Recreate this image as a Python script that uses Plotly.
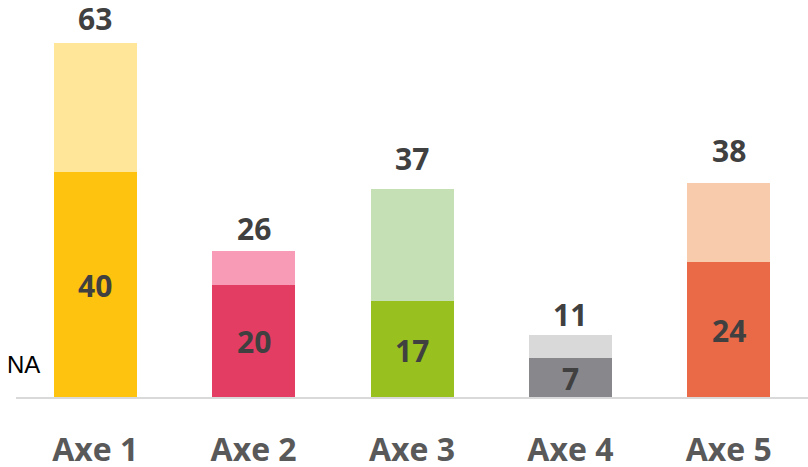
import plotly.graph_objects as go

categories = ["Axe 1", "Axe 2", "Axe 3", "Axe 4", "Axe 5"]
base_values = [40, 20, 17, 7, 24]
totals = [63, 26, 37, 11, 38]
top_values = [t - b for t, b in zip(totals, base_values)]

base_colors = ["#FDC30F", "#E43D64", "#98C11F", "#88878C", "#EA6A47"]
top_colors = ["#FFE699", "#F89BB6", "#C5E0B4", "#D9D9D9", "#F8CBAD"]
total_shift = [24, 22, 31, 21, 33]

FONT = "Open Sans"

fig = go.Figure()
fig.add_trace(go.Bar(x=categories, y=base_values, marker=dict(color=base_colors, line=dict(width=0)),
                     hoverinfo="skip"))
fig.add_trace(go.Bar(x=categories, y=top_values, marker=dict(color=top_colors, line=dict(width=0)),
                     hoverinfo="skip"))

for c, b, t, s in zip(categories, base_values, totals, total_shift):
    fig.add_annotation(x=c, y=b / 2, text=f"<b>{b}</b>", showarrow=False, yanchor="middle",
                       yshift=-1, font=dict(family=FONT, size=30, color="#404040"))
    fig.add_annotation(x=c, y=t, text=f"<b>{t}</b>", showarrow=False, yanchor="middle",
                       yshift=s, font=dict(family=FONT, size=30, color="#404040"))

fig.add_annotation(xref="paper", yref="paper", x=-0.014, y=0, xanchor="left", yanchor="bottom",
                   yshift=17, text="NA", showarrow=False,
                   font=dict(family="Liberation Sans", size=24, color="#000000"))

fig.update_layout(
    width=808, height=467,
    margin=dict(l=16, r=0, t=3, b=70, autoexpand=False),
    barmode="stack", bargap=0.476,
    showlegend=False,
    plot_bgcolor="white", paper_bgcolor="white",
    xaxis=dict(showline=True, linecolor="#D9D9D9", linewidth=2, ticks="",
               showgrid=False, zeroline=False, ticklabelstandoff=24, automargin=False,
               tickfont=dict(family=FONT, size=32, color="#595959", weight="bold")),
    yaxis=dict(range=[0, 70.1], visible=False, showgrid=False, zeroline=False, automargin=False),
)

fig.write_html("out.html", config={"displayModeBar": False},
               post_script="document.body.style.margin='0';")
